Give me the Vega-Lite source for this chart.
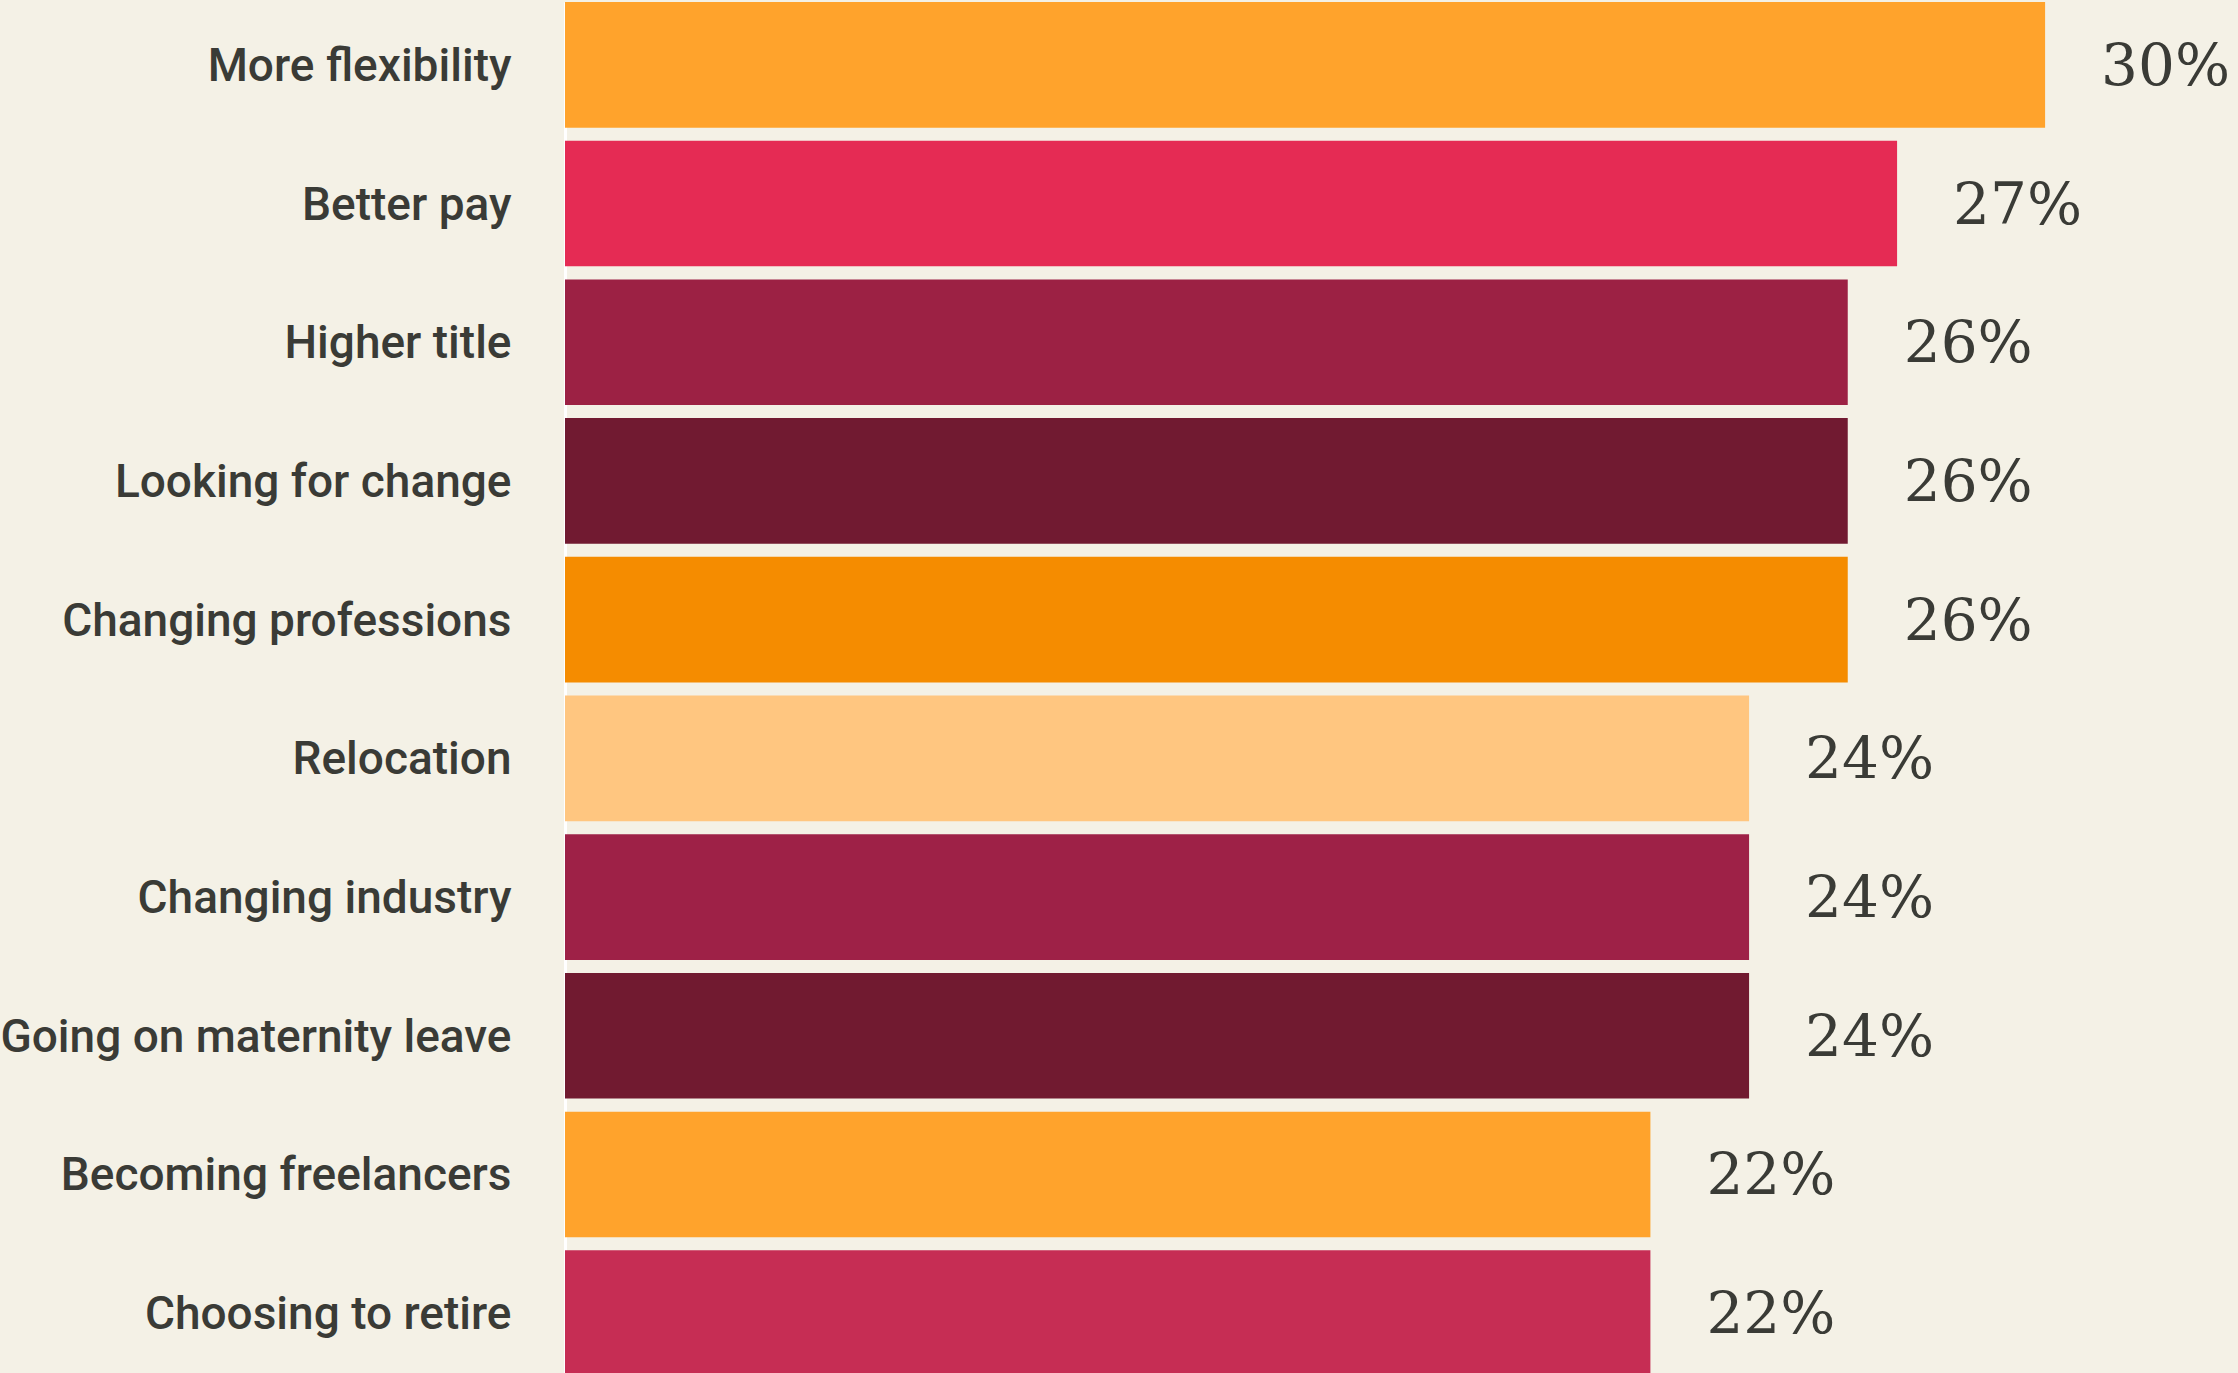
{
  "$schema": "https://vega.github.io/schema/vega-lite/v6.json",
  "width": 1673,
  "height": 1374,
  "padding": {"left": 565, "top": 2, "right": 0, "bottom": 0},
  "autosize": {"type": "none"},
  "background": "#f4f1e6",
  "config": {"view": {"stroke": null}},
  "data": {
    "values": [
      {"reason": "More flexibility", "pct": 0.30, "color": "#ffa32c"},
      {"reason": "Better pay", "pct": 0.27, "color": "#e52b54"},
      {"reason": "Higher title", "pct": 0.26, "color": "#9c2144"},
      {"reason": "Looking for change", "pct": 0.26, "color": "#711a31"},
      {"reason": "Changing professions", "pct": 0.26, "color": "#f58c00"},
      {"reason": "Relocation", "pct": 0.24, "color": "#ffc680"},
      {"reason": "Changing industry", "pct": 0.24, "color": "#9e2147"},
      {"reason": "Going on maternity leave", "pct": 0.24, "color": "#711a30"},
      {"reason": "Becoming freelancers", "pct": 0.22, "color": "#ffa32c"},
      {"reason": "Choosing to retire", "pct": 0.22, "color": "#c62d54"}
    ]
  },
  "encoding": {
    "y": {
      "field": "reason",
      "type": "nominal",
      "sort": null,
      "scale": {"paddingInner": 0.094, "paddingOuter": 0},
      "axis": {
        "title": null,
        "ticks": false,
        "domain": true,
        "domainColor": "#ffffff",
        "domainWidth": 3,
        "labelPadding": 54,
        "labelFont": "Roboto",
        "labelFontWeight": 500,
        "labelFontSize": 46,
        "labelColor": "#3a3b36",
        "labelBaseline": "alphabetic",
        "labelOffset": 16,
        "labelLimit": 700
      }
    },
    "x": {
      "field": "pct",
      "type": "quantitative",
      "scale": {"domain": [0, 0.3391], "nice": false},
      "axis": null
    }
  },
  "layer": [
    {
      "mark": {"type": "bar"},
      "encoding": {"color": {"field": "color", "type": "nominal", "scale": null, "legend": null}}
    },
    {
      "mark": {
        "type": "text",
        "align": "left",
        "baseline": "alphabetic",
        "dx": 56,
        "dy": 20,
        "font": "DejaVu Serif",
        "fontSize": 58,
        "color": "#3a3b36"
      },
      "encoding": {"text": {"field": "pct", "type": "quantitative", "format": ".0%"}}
    }
  ]
}
